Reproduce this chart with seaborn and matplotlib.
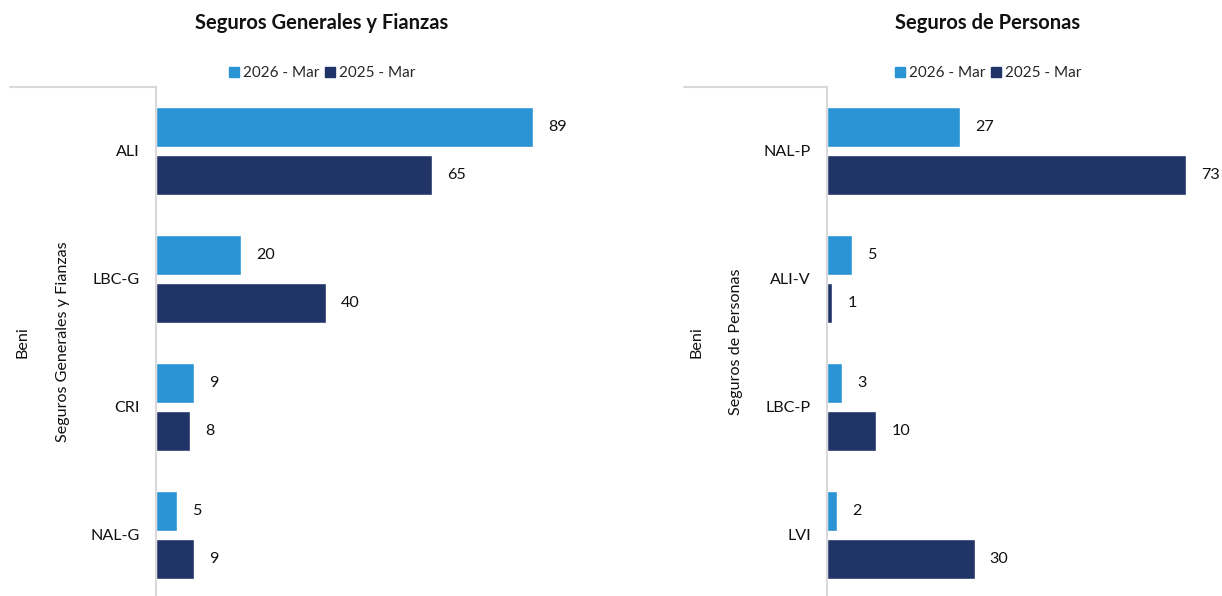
import pandas as pd
import matplotlib.pyplot as plt
import seaborn as sns
from matplotlib.patches import Patch
from matplotlib.lines import Line2D

# data
gen_cats = ["ALI", "LBC-G", "CRI", "NAL-G"]
gen_2026 = [89, 20, 9, 5]
gen_2025 = [65, 40, 8, 9]

per_cats = ["NAL-P", "ALI-V", "LBC-P", "LVI"]
per_2026 = [27, 5, 3, 2]
per_2025 = [73, 1, 10, 30]

periods = ["2026 - Mar", "2025 - Mar"]
colors = ["#2B94D4", "#213468"]
grid_col = "#D9D9DC"
txt = "#111111"
fs = 11.6

sns.set_theme(style="white")
plt.rcParams["font.family"] = ["Lato", "DejaVu Sans"]


def long_df(cats, a, b):
    return pd.DataFrame({
        "Cat": cats * 2,
        "Valor": a + b,
        "Periodo": [periods[0]] * len(cats) + [periods[1]] * len(cats),
    })


W, H = 1222, 596
fig = plt.figure(figsize=(W / 100, H / 100), dpi=100)

panels = [
    # df, group label, axis left px, axis right px, xmax, table left px, centre x, group x, outer x
    (long_df(gen_cats, gen_2026, gen_2025), "Seguros Generales y Fianzas",
     156, 635, 113, 10, 322, 63, 22),
    (long_df(per_cats, per_2026, per_2025), "Seguros de Personas",
     827, 1222, 80.3, 684, 988, 736, 697),
]

for df, group, x0, x1, xmax, tx, cx, gx, bx in panels:
    ax = fig.add_axes([x0 / W, (H - 599) / H, (x1 - x0) / W, 512 / H])
    sns.barplot(data=df, y="Cat", x="Valor", hue="Periodo", hue_order=periods,
                palette=colors, orient="y", width=0.75, gap=1 / 6,
                legend=False, ax=ax, saturation=1)
    for c in ax.containers:
        ax.bar_label(c, padding=11, fontsize=fs, color=txt)
    ax.set_xlim(0, xmax)
    ax.set_ylim(3.5, -0.5)
    ax.set_xlabel("")
    ax.set_ylabel("")
    ax.set_xticks([])
    ax.tick_params(axis="y", length=0, pad=11.5, labelsize=fs, labelcolor=txt)
    for s in ["top", "right", "bottom"]:
        ax.spines[s].set_visible(False)
    ax.spines["left"].set_color(grid_col)
    ax.spines["left"].set_linewidth(1.5)

    # top border of the category table
    fig.add_artist(Line2D([tx / W, x0 / W], [(H - 87) / H] * 2,
                          color=grid_col, lw=1.5))
    fig.text(gx / W, (H - 342) / H, group, rotation=90, ha="center", va="center",
             fontsize=fs, color=txt)
    fig.text(bx / W, (H - 342) / H, "Beni", rotation=90, ha="center", va="center",
             fontsize=fs, color=txt)
    fig.text(cx / W, (H - 23) / H, group, ha="center", va="center",
             fontsize=14.5, fontweight="bold", color=txt)

    handles = [Patch(color=colors[0], label=periods[0]),
               Patch(color=colors[1], label=periods[1])]
    fig.legend(handles=handles, loc="center", bbox_to_anchor=(cx / W, (H - 73) / H),
               ncol=2, frameon=False, fontsize=11, handlelength=0.65,
               handleheight=0.65, handletextpad=0.25, columnspacing=0.4)

fig.savefig("out.png", dpi=100)
